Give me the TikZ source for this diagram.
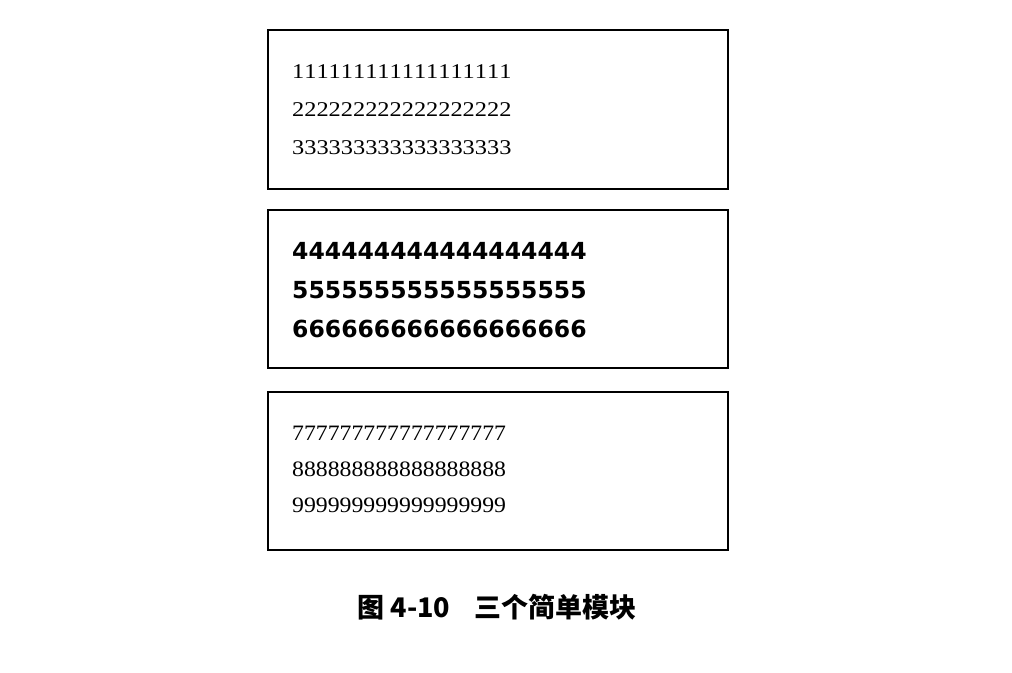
\documentclass[tikz,border=0pt]{standalone}
\usepackage{fontspec}
\setmainfont{Liberation Serif}[Kerning=Off]
\newfontfamily\boxsans{DejaVu Sans}[Kerning=Off]
\newfontfamily\cjk{Noto Sans CJK SC}
\begin{document}
\begin{tikzpicture}[x=1pt,y=-1pt,
  modbox/.style={draw=black,line width=1.8pt},
  serifrow/.style={anchor=west,inner sep=0pt,font=\fontsize{21}{21}\selectfont},
  sansrow/.style={anchor=west,inner sep=0pt,font=\boxsans\bfseries\fontsize{23.5}{23.5}\selectfont},
  serifrowb/.style={anchor=west,inner sep=0pt,font=\fontsize{22}{22}\selectfont},
  caption/.style={inner sep=0pt,font=\cjk\bfseries\fontsize{27}{27}\selectfont}]
\useasboundingbox (0,0) rectangle (1012,672);
\fill[white] (0,0) rectangle (1012,672);
% boxes
\draw[modbox] (268,30) rectangle (728,189);
\draw[modbox] (268,210) rectangle (728,368);
\draw[modbox] (268,392) rectangle (728,550);
% box 1
\node[serifrow] (r1) at (292,72) {\scalebox{1.16}[1]{111111111111111111}};
\node[serifrow] (r2) at (292,110) {\scalebox{1.16}[1]{222222222222222222}};
\node[serifrow] (r3) at (292,148) {\scalebox{1.16}[1]{333333333333333333}};
% box 2
\node[sansrow] (r4) at (292,251) {444444444444444444};
\node[sansrow] (r5) at (292,290) {555555555555555555};
\node[sansrow] (r6) at (292,329) {666666666666666666};
% box 3
\node[serifrowb] (r7) at (292,433) {\scalebox{1.08}[1]{777777777777777777}};
\node[serifrowb] (r8) at (292,469) {\scalebox{1.08}[1]{888888888888888888}};
\node[serifrowb] (r9) at (292,505) {\scalebox{1.08}[1]{999999999999999999}};
% caption
\node[caption] (cap) at (497,607) {图 4-10\hspace{24pt}三个简单模块};
\end{tikzpicture}
\end{document}
